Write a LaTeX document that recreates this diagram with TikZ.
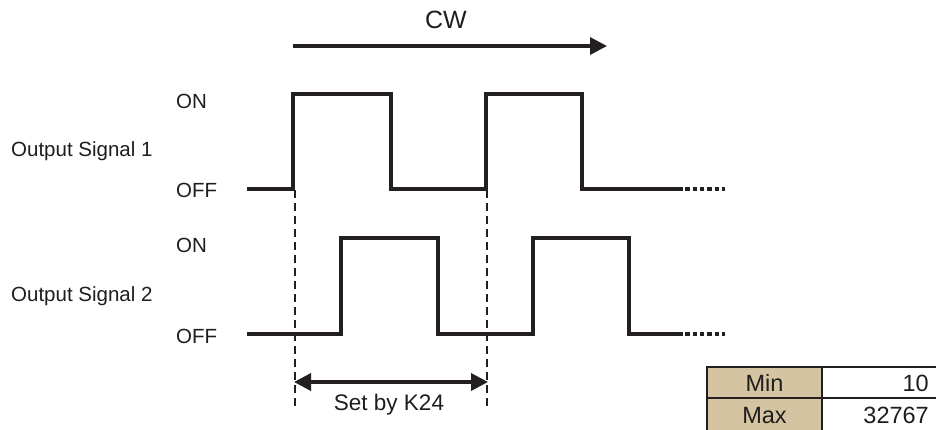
\documentclass[tikz,border=0pt]{standalone}
\usepackage{fontspec}
\setmainfont{Liberation Sans}
\usetikzlibrary{arrows.meta}
\definecolor{ink}{HTML}{231F20}
\definecolor{txt}{HTML}{1E1E1E}
\definecolor{beige}{HTML}{D5C4A1}
\tikzset{
  lbl/.style={anchor=base west, inner sep=0pt, text=txt, font=\fontsize{20.5}{24}\selectfont},
  sig/.style={draw=ink, line width=4pt, line join=miter},
  dots/.style={draw=ink, line width=4.5pt, dash pattern=on 4.5pt off 2.8pt},
  guide/.style={draw=ink, line width=2.8pt, dash pattern=on 8pt off 5pt},
  dim/.style={draw=ink, line width=3.6pt, {Triangle[length=17pt,width=17pt]}-{Triangle[length=17pt,width=17pt]}, shorten <=-1pt, shorten >=-1pt},
  cwarrow/.style={draw=ink, line width=3.2pt, -{Triangle[length=17pt,width=17pt]}},
  cell/.style={draw=ink, line width=1.3pt},
  tabtxt/.style={inner sep=0pt, text=txt, font=\fontsize{23.5}{27}\selectfont}
}
\begin{document}
\begin{tikzpicture}[x=1pt,y=-1pt]
\useasboundingbox[fill=white] (0,0) rectangle (936,429);
% title arrow
\node[anchor=base, inner sep=0pt, text=txt, font=\fontsize{25}{30}\selectfont] (cw) at (446,28) {CW};
\coordinate (cwS) at (293,46);
\coordinate (cwE) at (607,46);
\draw[cwarrow] (cwS) -- (cwE);
% labels
\node[lbl] (on1) at (176,108) {ON};
\node[lbl] (off1) at (176,197) {OFF};
\node[lbl] (on2) at (176,252) {ON};
\node[lbl] (off2) at (176,343) {OFF};
\node[lbl] (os1) at (11,156) {Output Signal 1};
\node[lbl] (os2) at (11,301) {Output Signal 2};
% signal 1
\draw[sig] (247,189) -- (293,189) -- (293,94) -- (391,94) -- (391,189) -- (486,189) -- (486,94) -- (582,94) -- (582,189) -- (678,189);
\draw[dots] (678,189) -- (725,189);
% signal 2
\draw[sig] (247,334) -- (341,334) -- (341,238) -- (438,238) -- (438,334) -- (533,334) -- (533,238) -- (629,238) -- (629,334) -- (678,334);
\draw[dots] (678,334) -- (725,334);
% guides
\coordinate (gAt) at (295,190);
\coordinate (gAb) at (295,408);
\coordinate (gBt) at (487,190);
\coordinate (gBb) at (487,408);
\draw[guide] (gAt) -- (gAb);
\draw[guide] (gBt) -- (gBb);
\coordinate (dA) at (295,382);
\coordinate (dB) at (487,382);
\draw[dim] (dA) -- (dB);
\node[anchor=base, inner sep=0pt, text=txt, font=\fontsize{22.5}{27}\selectfont] (k24) at (389,410) {Set by K24};
% table
\filldraw[cell, fill=beige] (707,367) rectangle (822,398);
\filldraw[cell, fill=beige] (707,398) rectangle (822,431);
\draw[cell] (822,367) rectangle (938,398);
\draw[cell] (822,398) rectangle (938,431);
\node[tabtxt, anchor=base] (min) at (764.5,391) {Min};
\node[tabtxt, anchor=base] (max) at (764.5,423) {Max};
\node[tabtxt, anchor=base east] (v10) at (929,391) {10};
\node[tabtxt, anchor=base east] (vmax) at (929,423) {32767};
\end{tikzpicture}
\end{document}
